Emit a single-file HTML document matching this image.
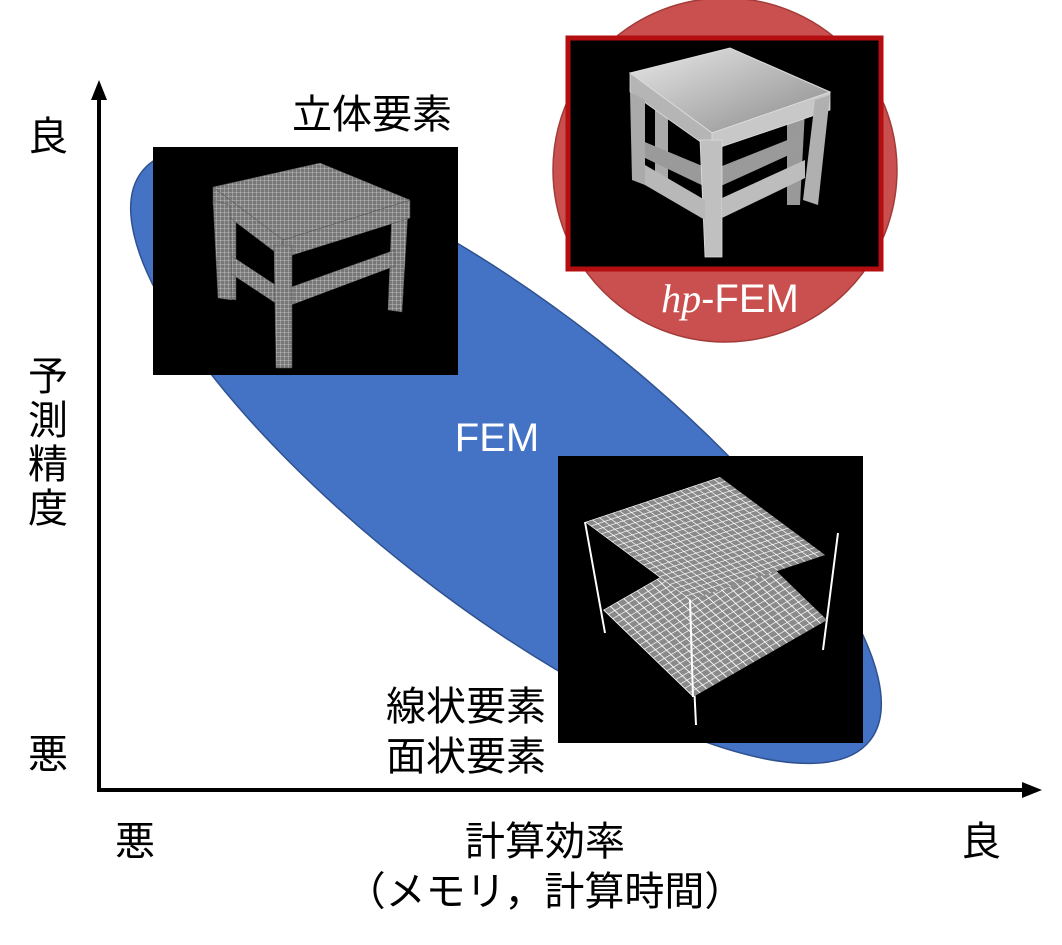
<!DOCTYPE html>
<html><head><meta charset="utf-8"><style>
html,body{margin:0;padding:0;background:#fff;}
svg{display:block;}
text{font-family:"Liberation Sans","Noto Sans CJK JP",sans-serif;}
</style></head><body>
<svg width="1062" height="945" viewBox="0 0 1062 945" xmlns="http://www.w3.org/2000/svg">
<defs>
<pattern id="g" width="0.05" height="0.05" patternUnits="userSpaceOnUse">
<rect width="0.05" height="0.05" fill="#8a8a8a"/>
<path d="M0 0H0.05M0 0V0.05" stroke="#fff" stroke-width="0.012"/>
</pattern>
<pattern id="m" width="4" height="4" patternUnits="userSpaceOnUse">
<rect width="4" height="4" fill="#777"/>
<path d="M0 0H4M0 0V4" stroke="#cfcfcf" stroke-width="0.8"/>
</pattern>
<linearGradient id="hg" x1="0" y1="0" x2="1" y2="1">
<stop offset="0" stop-color="#e8e8e8"/><stop offset="1" stop-color="#8a8a8a"/>
</linearGradient>
</defs>

<ellipse cx="506" cy="456" rx="462" ry="148" transform="rotate(38 506 456)" fill="#4472c4" stroke="#2f528f" stroke-width="1.5"/>

<circle cx="725" cy="170" r="172" fill="#c9504f" stroke="#a33b39" stroke-width="1.5"/>
<rect x="568" y="38" width="313" height="231" fill="#000" stroke="#b40e10" stroke-width="5"/>

<g>
<polygon points="655,110 668,110 668,185 655,185" fill="#aaa"/>
<polygon points="787,110 805,110 800,205 787,205" fill="#999"/>
<polygon points="640,140 712,170 800,135 800,150 712,190 645,158" fill="#9a9a9a"/>
<polygon points="630,73 730,48 830,92 712,133" fill="url(#hg)" stroke="#ddd" stroke-width="1"/>
<polygon points="630,73 712,133 712,150 630,92" fill="#b5b5b5" stroke="#ddd" stroke-width="0.8"/>
<polygon points="712,133 830,92 830,110 712,150" fill="#c8c8c8" stroke="#ddd" stroke-width="0.8"/>
<polygon points="700,140 722,140 722,257 705,257" fill="#c0c0c0" stroke="#ddd" stroke-width="0.8"/>
<polygon points="630,92 645,100 645,185 632,180" fill="#aaa"/>
<polygon points="815,100 830,95 818,205 803,200" fill="#b0b0b0"/>
<polygon points="645,165 705,200 705,220 645,185" fill="#b8b8b8"/>
<polygon points="722,198 805,160 805,178 722,218" fill="#bdbdbd"/>
</g>
<text x="730" y="312" font-size="40" fill="#fff" text-anchor="middle"><tspan font-family="Liberation Serif,serif" font-style="italic">hp</tspan>-FEM</text>

<rect x="153" y="147" width="305" height="228" fill="#000"/>
<g fill="url(#m)" stroke="#555" stroke-width="0.5">
<polygon points="222,200 236,200 236,300 222,298"/>
<polygon points="392,210 408,210 402,312 388,310"/>
<polygon points="230,255 283,290 395,250 395,266 283,308 230,273"/>
<polygon points="213,187 320,163 410,200 283,240"/>
<polygon points="213,187 283,240 283,258 213,205"/>
<polygon points="283,240 410,200 410,218 283,258"/>
<polygon points="274,245 292,245 292,368 276,368"/>
<polygon points="213,200 230,205 232,300 218,298"/>
</g>

<rect x="558" y="456" width="305" height="287" fill="#000"/>
<g fill="none" stroke="#fff" stroke-width="2">
<line x1="585" y1="522" x2="605" y2="633"/>
<line x1="838" y1="533" x2="823" y2="650"/>
<line x1="690" y1="600" x2="696" y2="725"/>
</g>
<polygon points="0,0 1,0 1,1 0,1" fill="url(#g)" transform="matrix(134,-77,90,87,603,610)"/>
<polygon points="0,0 1,0 1,1 0,1" fill="url(#g)" transform="matrix(135,-45,105,78,585,522)"/>
<line x1="690" y1="600" x2="693" y2="697" stroke="#fff" stroke-width="2"/>

<line x1="99" y1="790" x2="99" y2="95" stroke="#000" stroke-width="4"/>
<polygon points="99,80 91,100 107,100" fill="#000"/>
<line x1="97" y1="790" x2="1025" y2="790" stroke="#000" stroke-width="4"/>
<polygon points="1042,790 1022,782 1022,798" fill="#000"/>

<g font-size="40" fill="#000" text-anchor="middle">
<text x="48" y="150">良</text>
<text x="48" y="390">予</text>
<text x="48" y="434">測</text>
<text x="48" y="478">精</text>
<text x="48" y="522">度</text>
<text x="48" y="768">悪</text>
<text x="135" y="855">悪</text>
<text x="981" y="855">良</text>
<text x="545" y="855">計算効率</text>
<text x="545" y="905">（メモリ，計算時間）</text>
<text x="372" y="128">立体要素</text>
<text x="466" y="720">線状要素</text>
<text x="466" y="770">面状要素</text>
</g>
<text x="497" y="451" font-size="40" fill="#fff" text-anchor="middle">FEM</text>
</svg>
</body></html>
